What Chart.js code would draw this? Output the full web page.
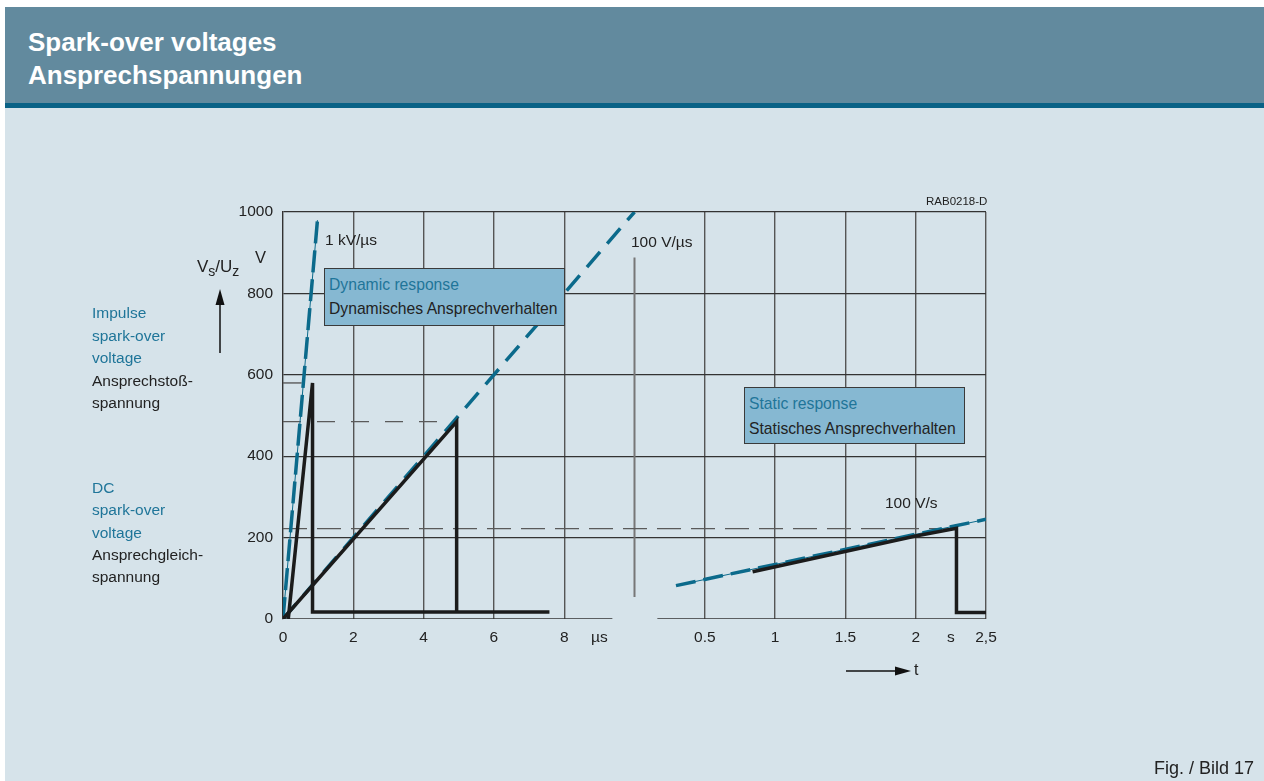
<!DOCTYPE html>
<html>
<head>
<meta charset="utf-8">
<script src="https://cdn.jsdelivr.net/npm/chart.js@4.4.1/dist/chart.umd.min.js"></script>
<style>
html, body { margin: 0; padding: 0; background: #fff; }
body { width: 1264px; height: 781px; position: relative; overflow: hidden; font-family: 'Liberation Sans', Arial, sans-serif; color: #222; }
#panel { position: absolute; left: 5px; top: 7px; right: 0; bottom: 0; background: #d6e3ea; }
#header { position: absolute; left: 5px; top: 7px; right: 0; height: 96px; background: #628a9e; }
#header-line { position: absolute; left: 5px; top: 103px; right: 0; height: 5px; background: #0a6286; }
#title { position: absolute; left: 28px; top: 26px; color: #fff; font-weight: bold; font-size: 26px; line-height: 33px; }
#wrap { position: absolute; left: 0; top: 0; width: 1264px; height: 781px; }
.t { position: absolute; white-space: nowrap; font-size: 15.5px; line-height: 18px; }
.blue { color: #1f7599; }
.box { position: absolute; background: #86b8d2; border: 1.5px solid #3a3a3a; box-sizing: border-box; padding: 0 4px; font-size: 15.7px; }
svg { position: absolute; left: 0; top: 0; overflow: visible; }
</style>
</head>
<body>
<div id="panel"></div>
<div id="header"></div>
<div id="header-line"></div>
<div id="title">Spark-over voltages<br>Ansprechspannungen</div>

<div id="wrap"><canvas id="chart"></canvas></div>

<div class="t" style="left:92px;top:302px;line-height:22.5px;">
  <span class="blue">Impulse<br>spark-over<br>voltage</span><br>Ansprechstoß-<br>spannung
</div>
<div class="t" style="left:92px;top:477px;line-height:22.3px;">
  <span class="blue">DC<br>spark-over<br>voltage</span><br>Ansprechgleich-<br>spannung
</div>

<div class="t" style="left:255px;top:248px;font-size:16.5px;">V</div>
<div class="t" style="left:197px;top:258px;font-size:17px;">V<sub style="font-size:14px;">s</sub>/U<sub style="font-size:14px;">z</sub></div>
<div class="t" style="left:325px;top:231px;">1 kV/µs</div>
<div class="t" style="left:631px;top:233px;">100 V/µs</div>
<div class="t" style="left:885px;top:494px;">100 V/s</div>
<div class="t" style="left:926px;top:194px;font-size:11.5px;line-height:14px;">RAB0218-D</div>
<div class="t" style="left:914px;top:661px;font-size:16px;">t</div>
<div class="t" style="right:10px;top:758px;font-size:18px;line-height:20px;">Fig. / Bild 17</div>

<div class="box" style="left:324px;top:268px;width:241px;height:58px;line-height:24px;padding-top:4px;">
  <span class="blue">Dynamic response</span><br>Dynamisches Ansprechverhalten
</div>
<div class="box" style="left:744px;top:387px;width:221px;height:57px;line-height:25px;padding-top:3px;">
  <span class="blue">Static response</span><br>Statisches Ansprechverhalten
</div>

<svg width="1264" height="781">
  <line x1="220" y1="353" x2="220" y2="300" stroke="#111" stroke-width="1.5"/>
  <polygon points="220,289 215.5,305 224.5,305" fill="#111"/>
  <line x1="846" y1="671" x2="900" y2="671" stroke="#111" stroke-width="1.5"/>
  <polygon points="911,671 895,666.5 895,675.5" fill="#111"/>
</svg>

<script>
// x axis: left part in µs (0..10), right part in s, 0.5 s per grid step after the break
const X_BREAK = 10;
const S_PER_UNIT = 0.25;
const toAxis = s => X_BREAK + s / S_PER_UNIT;

// tick labels
const usTicks = [0, 2, 4, 6, 8];
const sTicks = [0.5, 1, 1.5, 2, 2.5];
const sTickLabels = ['0.5', '1', '1.5', '2', '2,5'];
const usUnitAt = 9;      // µs
const sUnitAt = 2.25;    // s
const yTicks = [0, 200, 400, 600, 800, 1000];

// dynamic part, [µs, V]
const ramp1kV = [[0, 0], [0.98, 980]];
const ramp100V = [[0, 0], [10, 1000]];
const impulseTrace = [[0.15, 0], [0.84, 580], [0.84, 17], [7.58, 17]];
const rampTrace = [[0, 0], [4.94, 485], [4.94, 17]];
const impulseLevel = [[0, 580], [0.53, 580]];
const peakLevel = [[0, 485], [4.94, 485]];

// static part, [s, V]
const ramp100Vs = [[0.295, 82], [2.5, 245]];
const staticTrace = [[0.84, 116], [2, 204], [2.29, 223], [2.29, 16], [2.5, 16]];
const dcLevel = [[-2.5, 222], [2.29, 222]];   // starts at 0 µs (axis 0)

// axis break
const breakLine = [[10, 888], [10, 54]];
const baseLeft = [[0, 0], [9.37, 0]];
const baseRight = [[10.65, 0], [20, 0]];

const us = arr => arr.map(p => ({ x: p[0], y: p[1] }));
const sec = arr => arr.map(p => ({ x: Math.max(0, toAxis(p[0])), y: p[1] }));

const BLUE = '#0b6a8b';
const BLACK = '#1b1b1b';
const GREY = '#5a5a5a';

const line = (data, color, width, dash) => ({
    data: data,
    showLine: true,
    borderColor: color,
    borderWidth: width,
    borderDash: dash || [],
    pointRadius: 0,
    tension: 0,
    fill: false,
    borderJoinStyle: 'miter',
    borderCapStyle: 'butt'
});

const xTickValues = [...usTicks, usUnitAt, ...sTicks.map(toAxis), toAxis(sUnitAt)];
const xLabels = {};
usTicks.forEach(v => { xLabels[v] = String(v); });
xLabels[usUnitAt] = 'µs';
sTicks.forEach((v, i) => { xLabels[toAxis(v)] = sTickLabels[i]; });
xLabels[toAxis(sUnitAt)] = 's';
const xGridValues = [...usTicks, ...sTicks.map(toAxis)].filter(v => v !== 0);

const font = { family: "'Liberation Sans', Arial, sans-serif", size: 15.5 };

new Chart(document.getElementById('chart'), {
    type: 'scatter',
    data: {
        datasets: [
            line(us(impulseTrace), BLACK, 3.5),
            line(us(rampTrace), BLACK, 3.5),
            line(sec(staticTrace), BLACK, 3.5),
            line(us(ramp1kV), BLUE, 3.5, [22, 7]),
            line(us(ramp1kV), BLUE, 1),
            line(us(ramp100V), BLUE, 3.5, [20, 11]),
            line(sec(ramp100Vs), BLUE, 3.5, [20, 8]),
            line(sec(ramp100Vs), BLUE, 1),
            line(us(impulseLevel), GREY, 1.4),
            line(us(peakLevel), GREY, 1.4, [18, 16]),
            line(sec(dcLevel), GREY, 1.4, [24, 10]),
            line(us(breakLine), '#777', 2),
            line(us(baseLeft), '#333', 1.4),
            line(us(baseRight), '#333', 1.4)
        ]
    },
    options: {
        responsive: true,
        maintainAspectRatio: false,
        animation: false,
        layout: { padding: { left: 233, right: 278, top: 212, bottom: 122 } },
        plugins: { legend: { display: false }, tooltip: { enabled: false } },
        scales: {
            x: {
                type: 'linear',
                min: 0,
                max: 20,
                afterBuildTicks: scale => { scale.ticks = xTickValues.map(v => ({ value: v })); },
                afterFit: scale => { scale.height = 40; },
                ticks: {
                    autoSkip: false,
                    maxRotation: 0,
                    padding: 9,
                    color: '#222',
                    font: font,
                    callback: v => xLabels[v] !== undefined ? xLabels[v] : ''
                },
                grid: {
                    drawTicks: false,
                    lineWidth: 1.4,
                    color: ctx => xGridValues.includes(ctx.tick && ctx.tick.value) ? '#555' : 'rgba(0,0,0,0)'
                },
                border: { display: false }
            },
            y: {
                type: 'linear',
                min: 0,
                max: 1000,
                afterBuildTicks: scale => { scale.ticks = yTicks.map(v => ({ value: v })); },
                afterFit: scale => { scale.width = 50; },
                ticks: { padding: 10, color: '#222', font: font, callback: v => String(v) },
                grid: {
                    drawTicks: false,
                    lineWidth: 1.2,
                    color: ctx => (ctx.tick && ctx.tick.value === 0) ? 'rgba(0,0,0,0)' : '#333'
                },
                border: { display: true, color: '#333', width: 1.4 }
            }
        }
    }
});
</script>
</body>
</html>
